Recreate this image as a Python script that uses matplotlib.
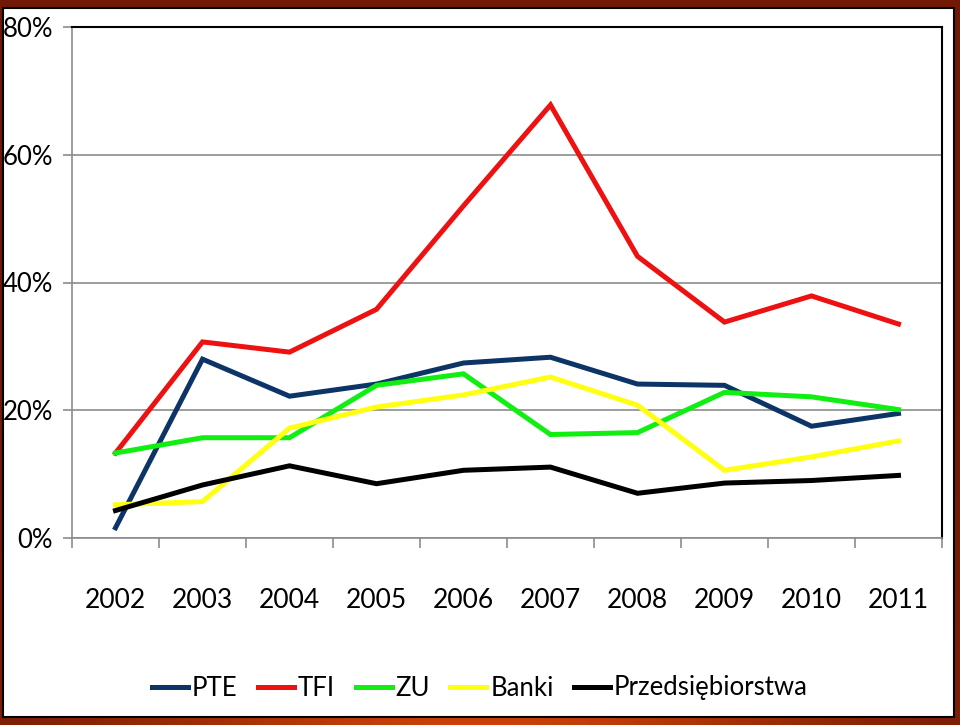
import numpy as np
import matplotlib.pyplot as plt
from matplotlib.patches import Rectangle
from matplotlib.ticker import FuncFormatter

years = ['2002', '2003', '2004', '2005', '2006', '2007', '2008', '2009', '2010', '2011']
pte = [1.6, 28.0, 22.2, 24.1, 27.4, 28.3, 24.1, 23.9, 17.5, 19.5]
tfi = [13.3, 30.7, 29.1, 35.8, 52.0, 67.8, 44.1, 33.8, 37.9, 33.5]
zu = [13.3, 15.7, 15.7, 23.9, 25.7, 16.2, 16.5, 22.8, 22.1, 20.1]
banki = [5.2, 5.7, 17.2, 20.5, 22.4, 25.2, 20.8, 10.6, 12.7, 15.2]
przeds = [4.3, 8.3, 11.3, 8.5, 10.6, 11.1, 7.0, 8.6, 9.0, 9.8]

names = ['PTE', 'TFI', 'ZU', 'Banki', 'Przedsiębiorstwa']
colors = ['#0d3466', '#ee1111', '#11ee11', '#ffff11', '#000000']

plt.rcParams['font.family'] = ['Lato', 'DejaVu Sans']

fig = plt.figure(figsize=(9.6, 7.25), dpi=100)

# slide background: dark red-brown with lighter orange glow at the bottom
bg = fig.add_axes([0, 0, 1, 1], zorder=-10)
gx, gy = np.meshgrid(np.linspace(-1, 1, 200), np.linspace(0, 1, 150))
glow = np.exp(-(gx ** 2) / 0.5 - ((1 - gy) ** 2) / 0.08)
base = np.array([0.45, 0.10, 0.02])
hot = np.array([0.80, 0.25, 0.03])
img = base + glow[..., None] * (hot - base)
bg.imshow(img, aspect='auto', extent=[0, 1, 0, 1], origin='upper')
bg.axis('off')

# white panel
fig.patches.append(Rectangle((3 / 960, 8 / 725), 951 / 960, 709 / 725,
                             transform=fig.transFigure, facecolor='white',
                             edgecolor='black', linewidth=1.5, zorder=-5))

ax = fig.add_axes([72 / 960, 187 / 725, 870 / 960, 511 / 725])
x = np.arange(1, len(years) + 1)
for vals, c, n in zip([pte, tfi, zu, banki, przeds], colors, names):
    ax.plot(x, vals, color=c, lw=3.6, label=n, solid_joinstyle='miter')

ax.set_xlim(0.5, len(years) + 0.5)
ax.set_ylim(0, 80)
ax.set_yticks([0, 20, 40, 60, 80])
ax.yaxis.set_major_formatter(FuncFormatter(lambda v, p: f'{int(v)}%'))
ax.grid(axis='y', color='#8c8c8c', lw=1.2)
ax.set_axisbelow(True)

ax.set_xticks(x)
ax.set_xticklabels(years)
ax.set_xticks(np.arange(0.5, len(years) + 1, 1), minor=True)
ax.tick_params(axis='x', which='major', length=0, pad=36, labelsize=19)
ax.tick_params(axis='x', which='minor', length=7, width=1.2, color='#8c8c8c')
ax.tick_params(axis='y', length=6.5, width=1.2, color='#8c8c8c', pad=7, labelsize=18.5)

for s in ['left', 'bottom']:
    ax.spines[s].set_color('#8c8c8c')
    ax.spines[s].set_linewidth(1.2)
for s in ['top', 'right']:
    ax.spines[s].set_color('black')
    ax.spines[s].set_linewidth(1.5)

fig.legend(loc='center', bbox_to_anchor=(0.5, 37 / 725), ncol=5, frameon=False,
           fontsize=18.5, handlelength=1.4, handletextpad=0.15, columnspacing=0.8)

fig.savefig('out.png', dpi=100)
